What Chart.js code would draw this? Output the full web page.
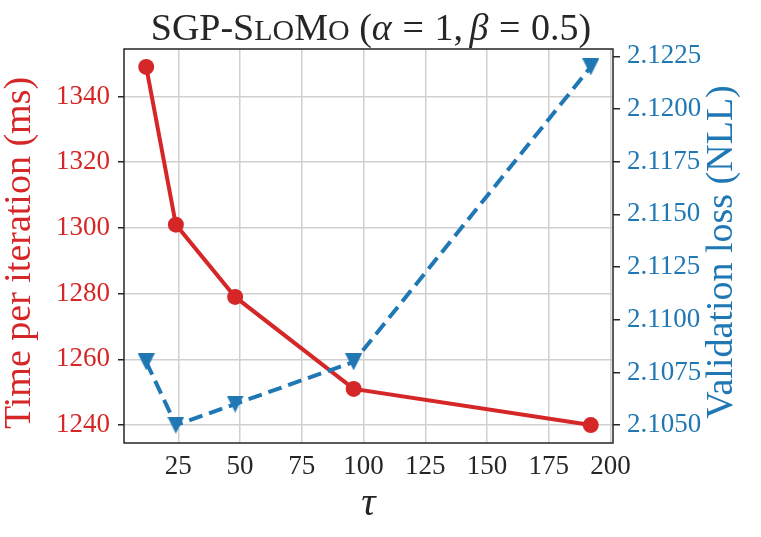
<!DOCTYPE html>
<html lang="en">
<head>
<meta charset="UTF-8">
<title>SGP-SLoMo</title>
<script src="https://cdn.jsdelivr.net/npm/chart.js"></script>
<style>
  body { margin: 0; background: #fff; }
  #wrap { width: 761px; height: 537px; }
</style>
</head>
<body>
<div id="wrap"><canvas id="chart" width="761" height="537"></canvas></div>
<script>
// values
const tau = [12, 24, 48, 96, 192];
const timeMs = [1349, 1301, 1279, 1251, 1240];
const valLoss = [2.108, 2.105, 2.106, 2.108, 2.122];
const xTicks = [25, 50, 75, 100, 125, 150, 175, 200];
const timeTicks = [1240, 1260, 1280, 1300, 1320, 1340];
const lossTicks = [2.1050, 2.1075, 2.1100, 2.1125, 2.1150, 2.1175, 2.1200, 2.1225];

const RED = '#d62728';
const BLUE = '#1f77b4';
const INK = '#262626';
const SERIF = "'Liberation Serif', 'DejaVu Serif', serif";

// downward triangle marker (like matplotlib 'v')
function triMarker(size, color) {
    const c = document.createElement('canvas');
    c.width = size; c.height = size;
    const g = c.getContext('2d');
    g.fillStyle = color;
    g.beginPath();
    g.moveTo(0, 0);
    g.lineTo(size, 0);
    g.lineTo(size / 2, size);
    g.closePath();
    g.fill();
    return c;
}

const fixTicks = arr => scale => { scale.ticks = arr.map(v => ({ value: v })); };

function vText(ctx, text, x, y, color) {
    ctx.save();
    ctx.translate(x, y);
    ctx.rotate(-Math.PI / 2);
    ctx.font = `38px ${SERIF}`;
    ctx.fillStyle = color;
    ctx.textAlign = 'center';
    ctx.textBaseline = 'middle';
    ctx.fillText(text, 0, 0);
    ctx.restore();
}

// title with small caps, both y-axis labels (bottom to top), full frame
const extras = {
    id: 'extras',
    afterDraw(chart) {
        const ctx = chart.ctx;
        const a = chart.chartArea;
        ctx.save();
        ctx.strokeStyle = INK;
        ctx.lineWidth = 1.5;
        ctx.strokeRect(a.left, a.top, a.right - a.left, a.bottom - a.top);

        const F = 38, S = 30;
        const rm = `${F}px ${SERIF}`, sc = `${S}px ${SERIF}`, it = `italic ${F}px ${SERIF}`;
        // [text, font, gap after in em]
        const parts = [
            ['SGP-S', rm, 0], ['LO', sc, 0], ['M', rm, 0], ['O', sc, 0.25],
            ['(', rm, 0], ['\u03b1', it, 0.28], ['=', rm, 0.28], ['1,', rm, 0.17],
            ['\u03b2', it, 0.28], ['=', rm, 0.28], ['0.5)', rm, 0]
        ];
        let total = 0;
        parts.forEach(p => { ctx.font = p[1]; total += ctx.measureText(p[0]).width + p[2] * F; });
        let x = 371 - total / 2;
        ctx.fillStyle = INK;
        ctx.textBaseline = 'alphabetic';
        ctx.textAlign = 'left';
        parts.forEach(p => {
            ctx.font = p[1];
            ctx.fillText(p[0], x, 40);
            x += ctx.measureText(p[0]).width + p[2] * F;
        });
        ctx.restore();

        vText(ctx, 'Time per iteration (ms)', 20, 253, RED);
        vText(ctx, 'Validation loss (NLL)', 722, 252, BLUE);
    }
};

const ctx = document.getElementById('chart').getContext('2d');
new Chart(ctx, {
    type: 'line',
    data: {
        datasets: [
            {
                label: 'Time per iteration',
                data: tau.map((t, i) => ({ x: t, y: timeMs[i] })),
                yAxisID: 'yTime',
                borderColor: RED,
                backgroundColor: RED,
                borderWidth: 4,
                pointRadius: 8,
                pointHoverRadius: 8,
                pointBorderWidth: 0,
                order: 2
            },
            {
                label: 'Validation loss',
                data: tau.map((t, i) => ({ x: t, y: valLoss[i] })),
                yAxisID: 'yLoss',
                borderColor: BLUE,
                backgroundColor: BLUE,
                borderWidth: 4,
                borderDash: [14, 7],
                pointStyle: triMarker(17, BLUE),
                order: 1
            }
        ]
    },
    options: {
        responsive: false,
        animation: false,
        layout: { padding: { top: 49, left: 0, right: 0, bottom: 0 } },
        plugins: {
            legend: { display: false },
            tooltip: { enabled: false },
            title: { display: false }
        },
        scales: {
            x: {
                type: 'linear',
                min: 3,
                max: 201,
                afterBuildTicks: fixTicks(xTicks),
                afterFit: s => { s.height = 94; },
                grid: { color: '#d0d0d0', lineWidth: 1.5, drawTicks: false },
                border: { display: false },
                ticks: { color: INK, font: { family: SERIF, size: 27 }, padding: 8 },
                title: {
                    display: true,
                    text: '\u03c4',
                    color: INK,
                    font: { family: SERIF, size: 40, style: 'italic', lineHeight: 1 },
                    padding: { top: 0, bottom: 13 }
                }
            },
            yTime: {
                type: 'linear',
                position: 'left',
                min: 1234.55,
                max: 1354.45,
                afterBuildTicks: fixTicks(timeTicks),
                afterFit: s => { s.width = 124; },
                grid: { color: '#d0d0d0', lineWidth: 1.5, tickColor: INK, tickLength: 6 },
                border: { display: false },
                ticks: {
                    color: RED,
                    font: { family: SERIF, size: 27 },
                    padding: 8,
                    callback: v => String(v)
                }
            },
            yLoss: {
                type: 'linear',
                position: 'right',
                min: 2.10415,
                max: 2.12285,
                afterBuildTicks: fixTicks(lossTicks),
                afterFit: s => { s.width = 148; },
                grid: { drawOnChartArea: false, tickColor: INK, tickLength: 7, lineWidth: 1.5 },
                border: { display: false },
                ticks: {
                    color: BLUE,
                    font: { family: SERIF, size: 27 },
                    padding: 7,
                    callback: v => v.toFixed(4)
                }
            }
        }
    },
    plugins: [extras]
});
</script>
</body>
</html>
